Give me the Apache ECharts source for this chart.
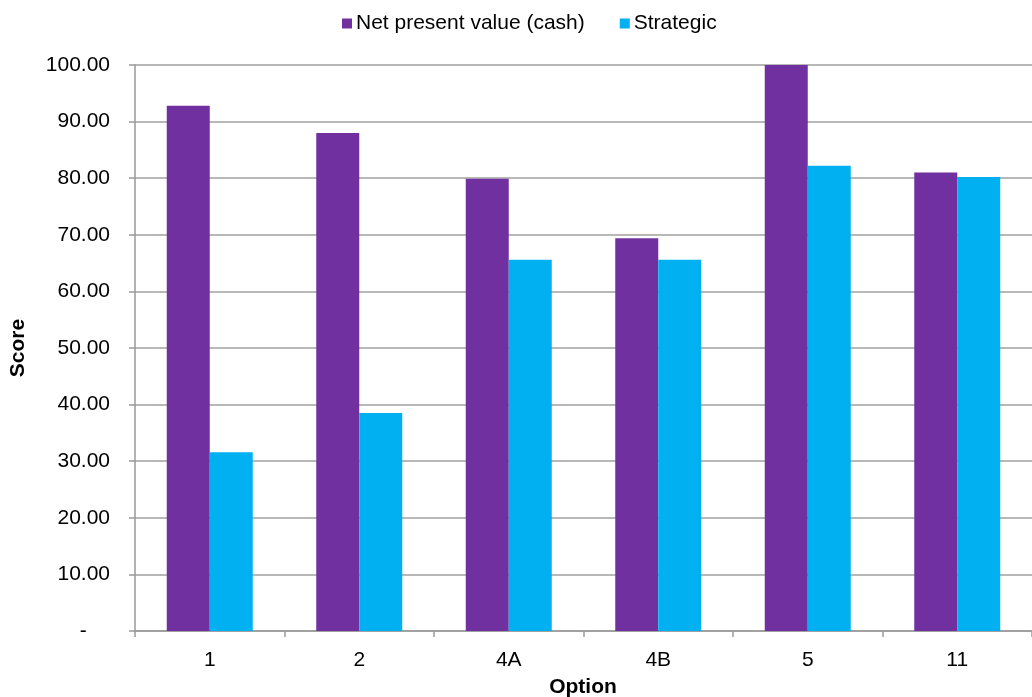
<!DOCTYPE html>
<html>
<head>
<meta charset="utf-8">
<script src="https://cdn.jsdelivr.net/npm/echarts@6/dist/echarts.min.js"></script>
<style>
  html, body { margin: 0; padding: 0; background: #fff; }
  #chart { width: 1032px; height: 697px; }
</style>
</head>
<body>
<div id="chart"></div>
<script>
// Option scores per series
const categories = ['1', '2', '4A', '4B', '5', '11'];
const npvCash = [92.8, 88.0, 79.9, 69.4, 100.0, 81.0];
const strategic = [31.6, 38.5, 65.6, 65.6, 82.2, 80.2];
const seriesNames = ['Net present value (cash)', 'Strategic'];

const FONT = '"Liberation Sans", Arial, sans-serif';
const FS = 21;

const chart = echarts.init(document.getElementById('chart'), null, { renderer: 'canvas' });

chart.setOption({
  animation: false,
  backgroundColor: '#ffffff',
  textStyle: { fontFamily: FONT, color: '#000' },
  legend: {
    top: 8,
    left: 337,
    itemWidth: 10,
    itemHeight: 10,
    itemGap: 35,
    icon: 'rect',
    textStyle: { fontFamily: FONT, fontSize: FS, color: '#000', padding: [0, 0, 0, -1] },
    data: seriesNames
  },
  grid: { left: 135, top: 65, width: 906, bottom: 66, containLabel: false },
  xAxis: {
    type: 'category',
    data: categories,
    axisLine: { lineStyle: { color: '#999', width: 1.5 } },
    axisTick: { show: true, length: 6, lineStyle: { color: '#999', width: 1.5 } },
    axisLabel: { margin: 19, fontSize: FS, fontFamily: FONT, color: '#000' }
  },
  yAxis: {
    type: 'value',
    min: 0,
    max: 100,
    interval: 10,
    name: 'Score',
    nameLocation: 'middle',
    nameGap: 106,
    nameRotate: 90,
    nameTextStyle: { fontFamily: FONT, fontSize: FS, fontWeight: 'bold', color: '#000' },
    axisLine: { show: true, lineStyle: { color: '#999', width: 1.5 } },
    axisTick: { show: true, length: 6, lineStyle: { color: '#999', width: 1.5 } },
    splitLine: { lineStyle: { color: '#a0a0a0', width: 1.5 } },
    axisLabel: {
      margin: 25,
      fontSize: FS,
      fontFamily: FONT,
      color: '#000',
      formatter: v => v === 0 ? '-    ' : v.toFixed(2)
    }
  },
  graphic: [{
    type: 'text',
    x: 583,
    y: 687,
    style: {
      text: 'Option',
      font: 'bold ' + FS + 'px ' + FONT,
      fill: '#000',
      align: 'center',
      verticalAlign: 'middle'
    }
  }],
  series: [
    {
      name: seriesNames[0],
      type: 'bar',
      data: npvCash,
      barWidth: 43,
      barGap: '0%',
      itemStyle: { color: '#7030A0' }
    },
    {
      name: seriesNames[1],
      type: 'bar',
      data: strategic,
      barWidth: 43,
      barGap: '0%',
      itemStyle: { color: '#00B0F0' }
    }
  ]
});
</script>
</body>
</html>
